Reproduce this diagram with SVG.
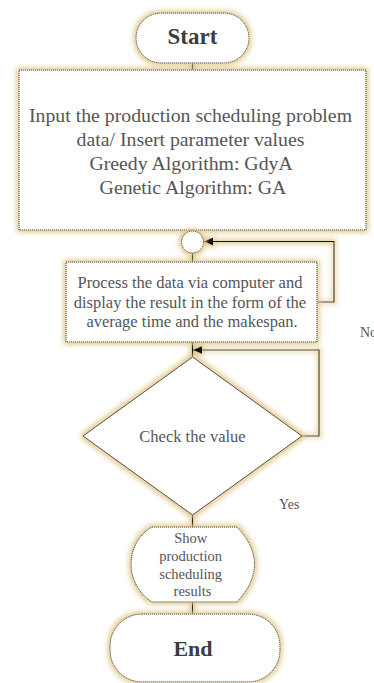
<svg xmlns="http://www.w3.org/2000/svg" width="374" height="683" viewBox="0 0 374 683">
  <defs>
    <!-- warm soft halo drawn around every shape and connector -->
    <filter id="halo" filterUnits="userSpaceOnUse" x="0" y="0" width="374" height="683">
      <feMorphology in="SourceAlpha" operator="dilate" radius="2" result="thick"/>
      <feGaussianBlur in="thick" stdDeviation="2.6" result="soft"/>
      <feFlood flood-color="#dfc586" flood-opacity="0.9"/>
      <feComposite in2="soft" operator="in" result="glow"/>
      <feMerge>
        <feMergeNode in="glow"/>
        <feMergeNode in="SourceGraphic"/>
      </feMerge>
    </filter>
    <marker id="arrow" markerWidth="9" markerHeight="8" refX="9" refY="4" orient="auto" markerUnits="userSpaceOnUse">
      <path d="M0,0 L9,4 L0,8 Z" fill="#111"/>
    </marker>
  </defs>
  <style>
    .shape { fill: #ffffff; stroke: #333; stroke-width: 1; stroke-dasharray: 1.2 0.8; filter: url(#halo); }
    .solid { fill: #ffffff; stroke: #333; stroke-width: 0.9; filter: url(#halo); }
    .link { fill: none; stroke: #111; stroke-width: 1.2; }
    .txt { font-family: "Liberation Serif", "Times New Roman", serif; fill: #555; text-anchor: middle; }
    .bold { font-family: "Liberation Serif", "Times New Roman", serif; font-weight: bold; fill: #3d3d3d; text-anchor: middle; }
    .lbl { font-family: "Liberation Serif", "Times New Roman", serif; fill: #555; font-size: 14px; }
  </style>

  <rect width="374" height="683" fill="#ffffff"/>

  <!-- connectors -->
  <g id="connectors" filter="url(#halo)">
    <path class="link" d="M192.5,63 V70"/>
    <path class="link" d="M192.5,230 V231"/>
    <path class="link" d="M192.5,253 V262"/>
    <path class="link" d="M192.5,342 V357"/>
    <path class="link" d="M317,302 H334 V241.5 H204" marker-end="url(#arrow)"/>
    <path class="link" d="M302,436 H319 V350 H193" marker-end="url(#arrow)"/>
    <path class="link" d="M192.5,515 V527"/>
    <path class="link" d="M192.5,602 V614"/>
  </g>

  <g id="start">
    <rect class="shape" x="136" y="13" width="113" height="50" rx="25"/>
    <text class="bold" x="192.5" y="44" font-size="23">Start</text>
  </g>

  <g id="input">
    <rect class="shape" x="19" y="70" width="347" height="160"/>
    <text class="txt" font-size="19.8">
      <tspan x="193" y="122">Input the production scheduling problem</tspan>
      <tspan x="193" y="146">data/ Insert parameter values</tspan>
      <tspan x="193" y="170">Greedy Algorithm: GdyA</tspan>
      <tspan x="193" y="194">Genetic Algorithm: GA</tspan>
    </text>
  </g>

  <g id="junction">
    <circle class="shape" cx="192.5" cy="242" r="11"/>
  </g>

  <g id="process">
    <rect class="shape" x="66" y="262" width="251" height="80"/>
    <text class="txt" font-size="16.5">
      <tspan x="192" y="288">Process the data via computer and</tspan>
      <tspan x="192" y="307.5">display the result in the form of the</tspan>
      <tspan x="192" y="327">average time and the makespan.</tspan>
    </text>
  </g>

  <g id="check">
    <polygon class="solid" points="192.5,357 302,436 192.5,515 83,436"/>
    <text class="txt" x="192.5" y="441.5" font-size="16.5">Check the value</text>
  </g>

  <g id="labels">
    <text class="lbl" x="360" y="337">No</text>
    <text class="lbl" x="279" y="509">Yes</text>
  </g>

  <g id="show">
    <path class="shape" d="M152,527 H237 Q272,564 237,602 H152 C139,594 131,579 131,564 C131,549 139,534 152,527 Z"/>
    <text class="txt" font-size="14.5">
      <tspan x="192.5" y="543">Show</tspan>
      <tspan x="192.5" y="561">production</tspan>
      <tspan x="192.5" y="578.5">scheduling</tspan>
      <tspan x="192.5" y="596">results</tspan>
    </text>
  </g>

  <g id="end">
    <rect class="shape" x="110" y="614" width="170" height="68" rx="32"/>
    <text class="bold" x="193" y="656" font-size="22">End</text>
  </g>
</svg>
